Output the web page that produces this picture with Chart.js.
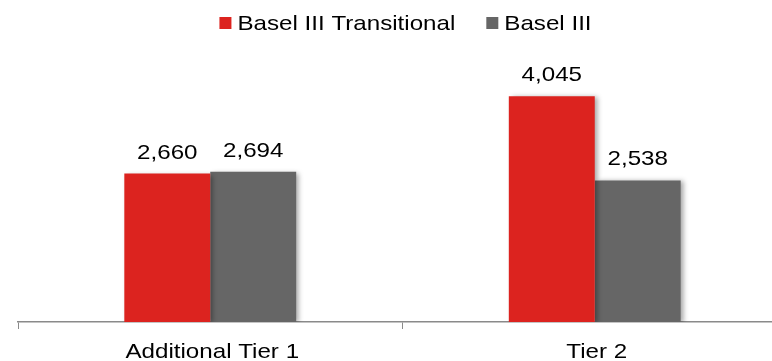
<!DOCTYPE html>
<html>
<head>
<meta charset="utf-8">
<script src="https://cdn.jsdelivr.net/npm/chart.js@4/dist/chart.umd.min.js"></script>
<style>
  html, body { margin: 0; padding: 0; background: #fff; overflow: hidden; }
  #wrap { position: relative; width: 800px; height: 361px; }
</style>
</head>
<body>
<div id="wrap"><canvas id="capital" width="800" height="361"></canvas></div>
<script>
const categories = ["Additional Tier 1", "Tier 2"];
const transitional = [2660, 4045];
const fullyLoaded = [2694, 2538];
const seriesNames = ["Basel III Transitional", "Basel III"];
const seriesColors = ["#DC231F", "#666666"];

const FONT = "21px 'Liberation Sans', Arial, sans-serif";
const STRETCH = 1.15; // text is set a little wide

function wideText(ctx, text, x, y, align) {
  const w = ctx.measureText(text).width * STRETCH;
  let left = x;
  if (align === "center") left = x - w / 2;
  ctx.save();
  ctx.translate(left, y);
  ctx.scale(STRETCH, 1);
  ctx.textAlign = "left";
  ctx.fillText(text, 0, 0);
  ctx.restore();
  return w;
}

// values above the bars, category names under the axis, legend on top
const textLayer = {
  id: "textLayer",
  afterDraw(chart) {
    const ctx = chart.ctx;
    const area = chart.chartArea;
    ctx.save();
    ctx.font = FONT;
    ctx.fillStyle = "#000";
    ctx.textBaseline = "alphabetic";

    chart.data.datasets.forEach((ds, i) => {
      chart.getDatasetMeta(i).data.forEach((bar, j) => {
        wideText(ctx, ds.data[j].toLocaleString("en-US"), bar.x, bar.y - 15, "center");
      });
    });

    const xs = chart.scales.x;
    chart.data.labels.forEach((lab, i) => {
      wideText(ctx, lab, xs.getPixelForTick(i) + 2, area.bottom + 36, "center");
    });

    // legend
    const box = 12, gapBox = 6, gapItem = 31;
    const widths = seriesNames.map(n => ctx.measureText(n).width * STRETCH);
    const total = widths.reduce((a, w) => a + box + gapBox + w, 0) + gapItem * (seriesNames.length - 1);
    let x = (area.left + area.right) / 2 + 3 - total / 2;
    seriesNames.forEach((n, i) => {
      ctx.fillStyle = seriesColors[i];
      ctx.fillRect(x, 17, box, box);
      ctx.fillStyle = "#000";
      wideText(ctx, n, x + box + gapBox, 30, "left");
      x += box + gapBox + widths[i] + gapItem;
    });
    ctx.restore();
  }
};

// soft shadow to the right of the bars
const barShadow = {
  id: "barShadow",
  beforeDatasetsDraw(chart) {
    const ctx = chart.ctx;
    ctx.save();
    ctx.shadowColor = "rgba(0,0,0,0.35)";
    ctx.shadowBlur = 5;
    ctx.shadowOffsetX = 3;
    ctx.shadowOffsetY = 1;
  },
  afterDatasetsDraw(chart) {
    chart.ctx.restore();
  }
};

new Chart(document.getElementById("capital"), {
  type: "bar",
  plugins: [barShadow, textLayer],
  data: {
    labels: categories,
    datasets: [
      { label: seriesNames[0], data: transitional, backgroundColor: seriesColors[0] },
      { label: seriesNames[1], data: fullyLoaded, backgroundColor: seriesColors[1] }
    ]
  },
  options: {
    responsive: false,
    maintainAspectRatio: false,
    animation: false,
    layout: { padding: { left: 18, right: 13, top: 43, bottom: 32 } },
    datasets: { bar: { categoryPercentage: 0.447, barPercentage: 1 } },
    plugins: {
      tooltip: { enabled: false },
      legend: { display: false }
    },
    scales: {
      x: {
        grid: { offset: true, drawOnChartArea: false, drawTicks: true, tickLength: 7, color: "#8a8a8a" },
        border: { color: "#8a8a8a", width: 1.5 },
        ticks: { display: false }
      },
      y: {
        display: false,
        min: 0,
        max: 5000
      }
    }
  }
});
</script>
</body>
</html>
